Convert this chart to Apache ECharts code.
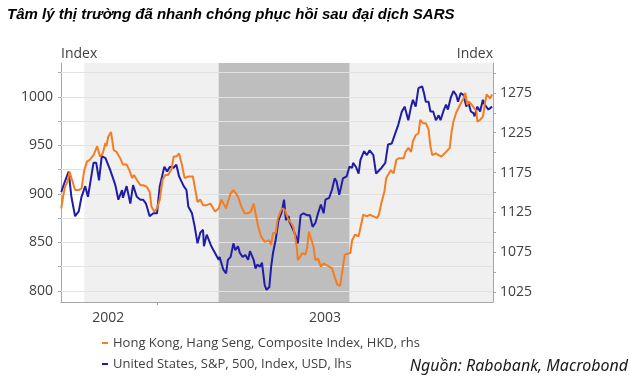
<!DOCTYPE html>
<html><head><meta charset="utf-8">
<script src="https://cdn.jsdelivr.net/npm/echarts@6/dist/echarts.min.js"></script>
<style>html,body{margin:0;padding:0;background:#fff}#c{width:630px;height:381px}</style>
</head><body><div id="c"></div>
<script>
const titleText = 'Tâm lý thị trường đã nhanh chóng phục hồi sau đại dịch SARS';
const sourceText = 'Nguồn: Rabobank, Macrobond';
const seriesNames = ['Hong Kong, Hang Seng, Composite Index, HKD, rhs', 'United States, S&P, 500, Index, USD, lhs'];
const axisNames = ['Index', 'Index'];
// x values: days since 2003-01-01
const xRange = [-104.3, 365];
const yearLabelDays = [-53, 182.5];
const yearTickDays = [0];
const shadeLight = [-79, 365];
const shadeDark = [67, 209];
const leftRange = [788.5, 1035];
const leftLabels = [800, 850, 900, 950, 1000];
const leftTicks = [800, 825, 850, 875, 900, 925, 950, 975, 1000, 1025];
const rightRange = [1012.5, 1312.5];
const rightLabels = [1025, 1075, 1125, 1175, 1225, 1275];
const rightTicks = [1025, 1050, 1075, 1100, 1125, 1150, 1175, 1200, 1225, 1250, 1275, 1300];

const usPoints = [
[-104,902],[-100,913],[-96,923],[-93,897],[-89,877],[-85,882],[-82,897],[-78,908],[-75,897],[-69,932],
[-66,932],[-63,914],[-60,939],[-56,937],[-51,925],[-47,914],[-45,908],[-42,894],[-38,904],[-37,896],
[-33,908],[-29,890],[-26,909],[-22,897],[-18,894],[-15,894],[-12,890],[-8,877],[-4,880],[0,880],
[3,908],[8,928],[11,923],[14,928],[18,927],[21,930],[24,918],[29,908],[32,904],[34,887],
[38,880],[41,866],[44,849],[47,860],[50,863],[51,846],[54,858],[56,860],[59,846],[63,839],
[67,832],[68,835],[72,822],[75,818],[77,832],[80,835],[83,849],[85,842],[88,846],[90,839],
[93,835],[96,837],[99,832],[101,841],[105,832],[107,823],[109,827],[112,825],[114,829],[117,806],
[119,801],[122,804],[124,825],[126,839],[129,853],[132,873],[135,880],[136,884],[138,894],[140,873],
[143,877],[144,871],[148,863],[151,856],[153,849],[156,878],[159,880],[163,878],[166,878],[169,866],
[172,870],[175,880],[178,889],[181,880],[183,894],[187,896],[190,904],[193,916],[195,913],[198,899],
[202,916],[206,918],[209,928],[212,927],[213,932],[216,928],[219,921],[221,935],[225,944],[228,940],
[231,945],[235,940],[238,921],[240,920],[244,927],[248,932],[251,951],[255,952],[259,963],[262,971],
[266,985],[269,990],[273,976],[276,990],[278,997],[281,990],[284,1009],[288,1011],[290,1004],[292,995],
[295,995],[297,985],[300,985],[303,976],[306,981],[308,976],[311,985],[314,992],[316,987],[319,999],
[322,1006],[325,1002],[327,995],[330,1004],[333,1002],[336,990],[338,995],[341,985],[344,983],[345,980],
[348,990],[351,985],[354,997],[356,992],[360,987],[364,990]
];

const hkPoints = [
[-104,1130],[-102,1145],[-100,1157],[-97,1164],[-95,1176],[-93,1176],[-89,1153],[-85,1153],[-82,1155],[-79,1178],
[-76,1189],[-73,1191],[-69,1197],[-65,1208],[-62,1195],[-59,1199],[-56,1212],[-55,1208],[-53,1220],[-50,1226],
[-47,1203],[-44,1201],[-40,1193],[-37,1185],[-33,1185],[-30,1178],[-27,1168],[-25,1172],[-22,1166],[-18,1159],
[-15,1159],[-11,1157],[-8,1151],[-6,1132],[-3,1126],[0,1130],[3,1141],[6,1166],[9,1172],[12,1172],
[16,1180],[18,1195],[21,1195],[24,1199],[27,1185],[30,1168],[34,1170],[39,1170],[41,1157],[44,1138],
[47,1141],[50,1134],[54,1134],[58,1136],[63,1126],[67,1130],[70,1141],[72,1143],[75,1130],[77,1130],
[80,1149],[83,1153],[85,1155],[88,1145],[91,1134],[95,1124],[99,1124],[102,1126],[105,1136],[107,1124],
[110,1107],[113,1095],[117,1088],[119,1086],[122,1090],[124,1084],[126,1099],[129,1099],[131,1116],[134,1126],
[136,1130],[139,1128],[142,1118],[146,1111],[148,1107],[150,1095],[152,1080],[153,1065],[155,1063],[158,1074],
[161,1072],[163,1080],[165,1101],[167,1103],[170,1082],[172,1065],[175,1067],[178,1057],[181,1061],[183,1061],
[187,1057],[190,1055],[193,1044],[196,1034],[199,1033],[201,1049],[204,1072],[207,1073],[210,1074],[212,1090],
[215,1097],[219,1095],[222,1111],[224,1122],[228,1120],[231,1122],[235,1120],[239,1118],[241,1122],[244,1138],
[247,1151],[249,1168],[251,1170],[254,1178],[257,1174],[260,1191],[263,1193],[268,1193],[270,1201],[273,1206],
[276,1201],[278,1214],[281,1222],[284,1224],[286,1241],[289,1237],[292,1237],[295,1229],[297,1208],[299,1197],
[303,1199],[306,1197],[309,1195],[314,1201],[318,1206],[320,1226],[322,1239],[325,1250],[327,1252],[330,1262],
[333,1268],[335,1275],[337,1260],[339,1264],[342,1260],[344,1262],[347,1252],[348,1239],[351,1241],[354,1245],
[356,1260],[358,1273],[360,1275],[362,1268],[364,1273]
];

const BASE = Date.UTC(2003, 0, 1);
const DAY = 86400000;
const yearOf = d => String(new Date(BASE + d * DAY).getUTCFullYear());
const TXT = '#404040';
const AX = '#a6a6a6';
const FONT = 'Open Sans';
const ORANGE = '#f47d22';
const BLUE = '#1f1ca6';

const legendBase = {
  orient: 'vertical', left: 102, padding: 0,
  icon: 'rect', itemWidth: 6, itemHeight: 2,
  textStyle: {fontFamily: FONT, fontSize: 13, color: TXT, lineHeight: 16}
};

const chart = echarts.init(document.getElementById('c'), null, {renderer: 'canvas'});
chart.setOption({
  animation: false,
  backgroundColor: '#ffffff',
  title: {
    text: titleText, left: 2, top: 2,
    textStyle: {fontFamily: 'Liberation Sans', fontStyle: 'italic', fontWeight: 'bold', fontSize: 15, color: '#000'}
  },
  legend: [
    Object.assign({}, legendBase, {top: 335, data: [seriesNames[0]]}),
    Object.assign({}, legendBase, {top: 356, data: [seriesNames[1]]})
  ],
  graphic: [{
    type: 'text', right: 2, top: 358,
    style: {text: sourceText, font: 'italic 16px "Noto Sans"', fill: '#1a1a1a'}
  }],
  grid: {left: 61, right: 137, top: 63, bottom: 79, containLabel: false},
  xAxis: {
    type: 'value', min: xRange[0], max: xRange[1],
    axisLine: {show: true, onZero: false, lineStyle: {color: AX, width: 1}},
    axisTick: {show: true, length: 3, customValues: yearTickDays, lineStyle: {color: AX}},
    axisLabel: {
      customValues: yearLabelDays, margin: 9,
      fontFamily: FONT, fontSize: 14, color: TXT,
      formatter: v => yearOf(v)
    },
    splitLine: {show: false}
  },
  yAxis: [{
    type: 'value', position: 'left', min: leftRange[0], max: leftRange[1],
    name: axisNames[0], nameLocation: 'end', nameGap: 2,
    nameTextStyle: {align: 'left', verticalAlign: 'bottom', fontFamily: FONT, fontSize: 14, color: TXT},
    axisLine: {show: true, onZero: false, lineStyle: {color: AX, width: 1}},
    axisTick: {show: true, length: 3, customValues: leftTicks, lineStyle: {color: AX}},
    axisLabel: {customValues: leftLabels, margin: 8, fontFamily: FONT, fontSize: 14, color: TXT, formatter: v => String(v)},
    splitLine: {show: false}
  }, {
    type: 'value', position: 'right', min: rightRange[0], max: rightRange[1],
    name: axisNames[1], nameLocation: 'end', nameGap: 2,
    nameTextStyle: {align: 'right', verticalAlign: 'bottom', fontFamily: FONT, fontSize: 14, color: TXT},
    axisLine: {show: true, onZero: false, lineStyle: {color: AX, width: 1}},
    axisTick: {show: true, length: 3, customValues: rightTicks, lineStyle: {color: AX}},
    axisLabel: {customValues: rightLabels, margin: 7, fontFamily: FONT, fontSize: 14, color: TXT, formatter: v => String(v)},
    splitLine: {show: false}
  }],
  series: [{
    name: seriesNames[1], type: 'line', yAxisIndex: 0, z: 3,
    data: usPoints,
    symbol: 'none', showSymbol: false,
    lineStyle: {color: BLUE, width: 2}, itemStyle: {color: BLUE},
    markArea: {
      silent: true, z: 0,
      data: [
        [{xAxis: shadeLight[0], itemStyle: {color: '#f0f0f0'}}, {xAxis: shadeLight[1]}],
        [{xAxis: shadeDark[0], itemStyle: {color: '#bebebe'}}, {xAxis: shadeDark[1]}]
      ]
    },
    markLine: {
      silent: true, z: 1, symbol: 'none', label: {show: false},
      lineStyle: {color: '#e2e2e2', width: 1, type: 'solid'},
      emphasis: {disabled: true},
      data: leftTicks.map(v => ({yAxis: v}))
    }
  }, {
    name: seriesNames[0], type: 'line', yAxisIndex: 1, z: 4,
    data: hkPoints,
    symbol: 'none', showSymbol: false,
    lineStyle: {color: ORANGE, width: 2}, itemStyle: {color: ORANGE}
  }]
});
</script>
</body></html>
